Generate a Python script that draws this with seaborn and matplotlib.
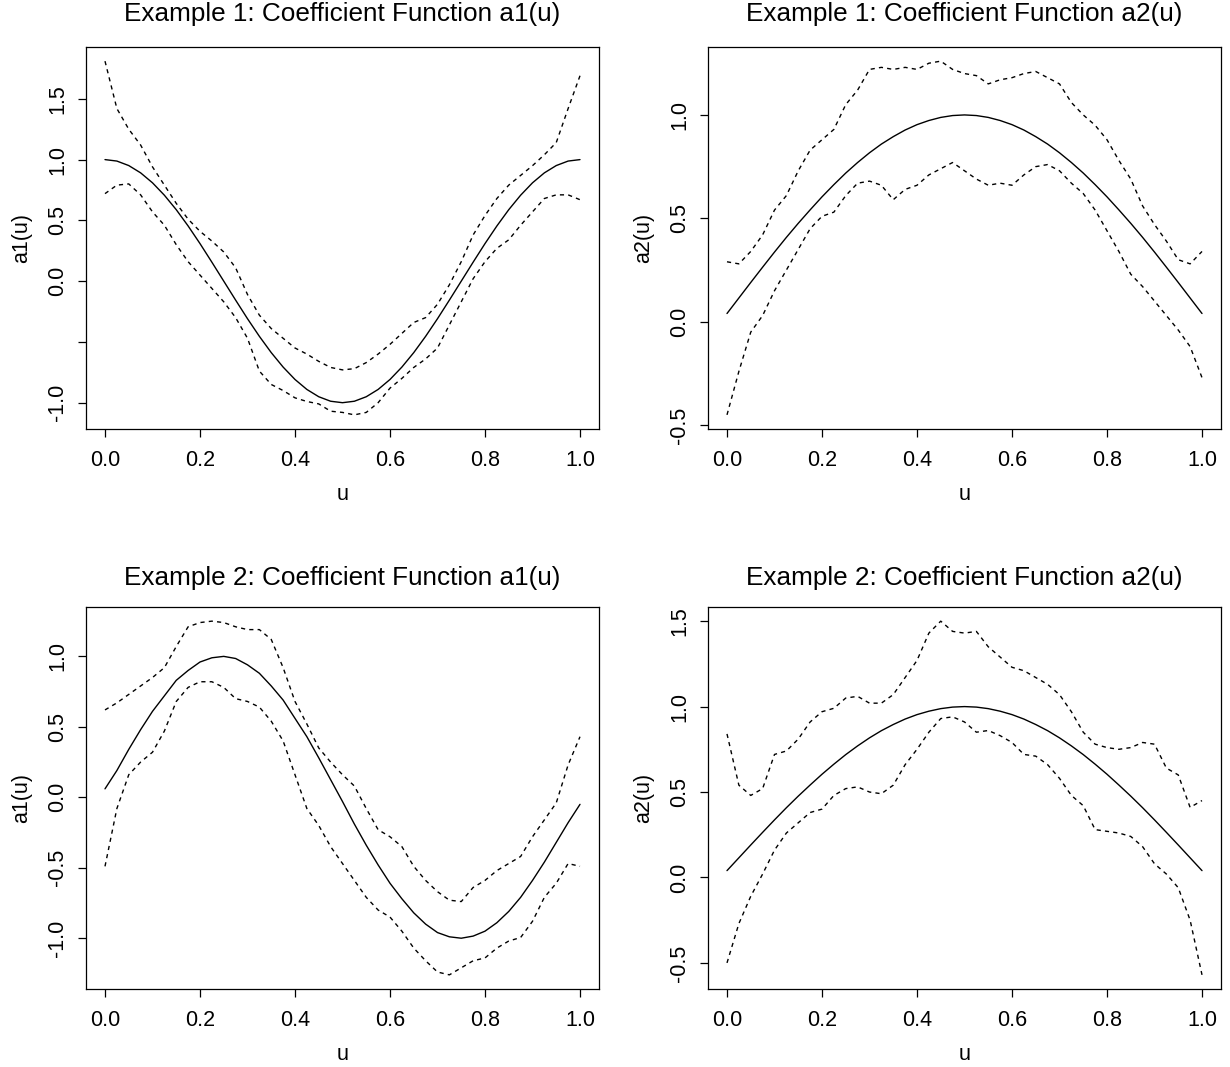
import matplotlib
matplotlib.use("Agg")
import matplotlib.pyplot as plt
import numpy as np
import pandas as pd
import seaborn as sns

# grid of u values (step 0.025)
u = [i / 40 for i in range(41)]

# Example 1, a1(u): true curve and dashed bands
ex1_a1_fit = [1.0, 0.988, 0.951, 0.891, 0.809, 0.707, 0.588, 0.454, 0.309, 0.156, 0.0,
              -0.156, -0.309, -0.454, -0.588, -0.707, -0.809, -0.891, -0.951, -0.988, -1.0,
              -0.988, -0.951, -0.891, -0.809, -0.707, -0.588, -0.454, -0.309, -0.156, 0.0,
              0.156, 0.309, 0.454, 0.588, 0.707, 0.809, 0.891, 0.951, 0.988, 1.0]
ex1_a1_up = [1.81, 1.42, 1.25, 1.12, 0.94, 0.79, 0.64, 0.51, 0.41, 0.33, 0.24,
             0.11, -0.11, -0.28, -0.39, -0.47, -0.55, -0.60, -0.66, -0.71, -0.73,
             -0.72, -0.67, -0.60, -0.52, -0.43, -0.34, -0.30, -0.19, -0.03, 0.16,
             0.38, 0.54, 0.68, 0.79, 0.87, 0.95, 1.04, 1.14, 1.42, 1.69]
ex1_a1_lo = [0.72, 0.79, 0.80, 0.71, 0.57, 0.46, 0.30, 0.16, 0.05, -0.06, -0.17,
             -0.30, -0.47, -0.74, -0.85, -0.90, -0.96, -0.99, -1.01, -1.07, -1.08,
             -1.10, -1.08, -1.00, -0.88, -0.80, -0.71, -0.64, -0.55, -0.36, -0.17,
             0.02, 0.16, 0.27, 0.34, 0.46, 0.57, 0.68, 0.71, 0.71, 0.67]

# Example 1, a2(u)
ex1_a2_fit = [0.04, 0.115, 0.19, 0.264, 0.337, 0.408, 0.476, 0.541, 0.604, 0.663, 0.719,
              0.77, 0.817, 0.859, 0.895, 0.927, 0.953, 0.973, 0.988, 0.997, 1.0,
              0.997, 0.988, 0.973, 0.953, 0.927, 0.895, 0.859, 0.817, 0.77, 0.719,
              0.663, 0.604, 0.541, 0.476, 0.408, 0.337, 0.264, 0.19, 0.115, 0.04]
ex1_a2_up = [0.29, 0.28, 0.34, 0.42, 0.54, 0.61, 0.73, 0.83, 0.88, 0.93, 1.05,
             1.12, 1.22, 1.23, 1.22, 1.23, 1.22, 1.25, 1.26, 1.22, 1.20,
             1.19, 1.15, 1.17, 1.18, 1.20, 1.21, 1.18, 1.15, 1.06, 1.00,
             0.95, 0.88, 0.78, 0.69, 0.56, 0.47, 0.39, 0.30, 0.28, 0.34]
ex1_a2_lo = [-0.45, -0.24, -0.05, 0.03, 0.15, 0.25, 0.35, 0.45, 0.51, 0.53, 0.61,
             0.67, 0.68, 0.66, 0.59, 0.64, 0.66, 0.71, 0.74, 0.77, 0.73,
             0.69, 0.66, 0.67, 0.66, 0.71, 0.75, 0.76, 0.73, 0.67, 0.62,
             0.54, 0.44, 0.34, 0.23, 0.17, 0.10, 0.03, -0.04, -0.12, -0.27]

# Example 2, a1(u)
ex2_a1_fit = [0.06, 0.19, 0.34, 0.48, 0.61, 0.72, 0.83, 0.90, 0.96, 0.99, 1.0,
              0.985, 0.94, 0.88, 0.79, 0.69, 0.56, 0.43, 0.28, 0.125, -0.03,
              -0.19, -0.34, -0.48, -0.61, -0.72, -0.82, -0.90, -0.96, -0.99, -1.0,
              -0.985, -0.95, -0.89, -0.81, -0.71, -0.59, -0.46, -0.32, -0.18, -0.05]
ex2_a1_up = [0.62, 0.67, 0.73, 0.79, 0.85, 0.92, 1.07, 1.21, 1.24, 1.25, 1.24,
             1.21, 1.19, 1.19, 1.12, 0.92, 0.68, 0.52, 0.35, 0.25, 0.16,
             0.08, -0.08, -0.23, -0.28, -0.35, -0.49, -0.59, -0.67, -0.73, -0.74,
             -0.64, -0.59, -0.52, -0.47, -0.42, -0.28, -0.16, -0.04, 0.23, 0.43]
ex2_a1_lo = [-0.49, -0.08, 0.16, 0.25, 0.32, 0.47, 0.68, 0.78, 0.82, 0.82, 0.78,
             0.70, 0.68, 0.64, 0.54, 0.40, 0.16, -0.08, -0.20, -0.35, -0.47,
             -0.59, -0.71, -0.80, -0.85, -0.95, -1.07, -1.16, -1.24, -1.26, -1.21,
             -1.16, -1.14, -1.07, -1.02, -0.995, -0.88, -0.71, -0.61, -0.47, -0.49]

# Example 2, a2(u)
ex2_a2_fit = ex1_a2_fit
ex2_a2_up = [0.84, 0.54, 0.48, 0.52, 0.72, 0.74, 0.81, 0.91, 0.97, 0.99, 1.05,
             1.06, 1.02, 1.02, 1.07, 1.17, 1.27, 1.43, 1.50, 1.44, 1.43,
             1.44, 1.35, 1.29, 1.23, 1.21, 1.17, 1.13, 1.07, 0.97, 0.85,
             0.78, 0.76, 0.75, 0.76, 0.79, 0.78, 0.64, 0.60, 0.41, 0.45]
ex2_a2_lo = [-0.50, -0.27, -0.11, 0.02, 0.16, 0.26, 0.32, 0.38, 0.40, 0.48, 0.52,
             0.53, 0.50, 0.49, 0.54, 0.66, 0.75, 0.85, 0.93, 0.94, 0.91,
             0.85, 0.86, 0.83, 0.79, 0.72, 0.71, 0.66, 0.58, 0.48, 0.42,
             0.28, 0.27, 0.26, 0.24, 0.18, 0.08, 0.02, -0.06, -0.25, -0.57]

panels = [
    ("Example 1: Coefficient Function a1(u)", "a1(u)", ex1_a1_fit, ex1_a1_up, ex1_a1_lo,
     [-1.0, -0.5, 0.0, 0.5, 1.0, 1.5], ["-1.0", "", "0.0", "0.5", "1.0", "1.5"]),
    ("Example 1: Coefficient Function a2(u)", "a2(u)", ex1_a2_fit, ex1_a2_up, ex1_a2_lo,
     [-0.5, 0.0, 0.5, 1.0], ["-0.5", "0.0", "0.5", "1.0"]),
    ("Example 2: Coefficient Function a1(u)", "a1(u)", ex2_a1_fit, ex2_a1_up, ex2_a1_lo,
     [-1.0, -0.5, 0.0, 0.5, 1.0], ["-1.0", "-0.5", "0.0", "0.5", "1.0"]),
    ("Example 2: Coefficient Function a2(u)", "a2(u)", ex2_a2_fit, ex2_a2_up, ex2_a2_lo,
     [-0.5, 0.0, 0.5, 1.0, 1.5], ["-0.5", "0.0", "0.5", "1.0", "1.5"]),
]

sns.set_theme(style="ticks")
plt.rcParams['font.family'] = ['Liberation Sans', 'DejaVu Sans']
plt.rcParams['axes.linewidth'] = 0.9
plt.rcParams['axes.edgecolor'] = 'black'
plt.rcParams['text.color'] = 'black'
plt.rcParams['axes.labelcolor'] = 'black'
plt.rcParams['axes.titlecolor'] = 'black'
plt.rcParams['xtick.color'] = 'black'
plt.rcParams['ytick.color'] = 'black'

fig = plt.figure(figsize=(12.3, 10.67), dpi=100)
W, H = 1230, 1067
boxes = [(86, 47), (708, 47), (86, 607), (708, 607)]
bw, bh = 513, 382

for i, ((title, ylab, fit, up, lo, yt, ytl), (bx, by)) in enumerate(zip(panels, boxes)):
    ax = fig.add_axes([bx / W, 1 - (by + bh) / H, bw / W, bh / H])
    df = pd.DataFrame({"u": u, "fit": fit, "up": up, "lo": lo})
    sns.lineplot(data=df, x="u", y="fit", ax=ax, color="black", linewidth=1.0)
    sns.lineplot(data=df, x="u", y="up", ax=ax, color="black", linewidth=1.0,
                 linestyle=(0, (3, 3)))
    sns.lineplot(data=df, x="u", y="lo", ax=ax, color="black", linewidth=1.0,
                 linestyle=(0, (3, 3)))
    ymin = min(fit + up + lo)
    ymax = max(fit + up + lo)
    pad = 0.04 * (ymax - ymin)
    ax.set_ylim(ymin - pad, ymax + pad)
    ax.set_xlim(-0.04, 1.04)
    ax.set_xticks([0.0, 0.2, 0.4, 0.6, 0.8, 1.0])
    ax.set_xticklabels(["0.0", "0.2", "0.4", "0.6", "0.8", "1.0"])
    ax.set_yticks(yt)
    ax.set_yticklabels(ytl, rotation=90, va="center")
    ax.tick_params(axis="both", direction="out", length=5.8, width=0.9,
                   labelsize=15.5, colors="black")
    ax.tick_params(axis="x", pad=9)
    ax.tick_params(axis="y", pad=7)
    ax.set_xlabel("u", fontsize=15.5, labelpad=10)
    ax.set_ylabel(ylab, fontsize=15.5, labelpad=11)
    # top row titles sit a little higher in the reference
    ax.set_title(title, fontsize=18.8, pad=19 if i < 2 else 16, color="black")
    for s in ax.spines.values():
        s.set_visible(True)
        s.set_color("black")

fig.savefig("out.png", dpi=100)
